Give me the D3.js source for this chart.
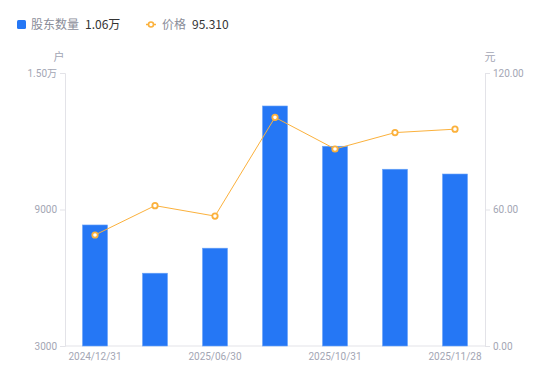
<!DOCTYPE html>
<html>
<head>
<meta charset="utf-8">
<script src="https://cdn.jsdelivr.net/npm/d3@7"></script>
<style>
body{margin:0;background:#fff;font-family:"Noto Sans CJK SC","Noto Sans",sans-serif}
</style>
</head>
<body>
<script>
// data
let dates = ["2024/12/31","2025/03/31","2025/06/30","2025/09/30","2025/10/31","2025/11/20","2025/11/28"]
let holders = [8320, 6200, 7300, 13550, 11780, 10770, 10560]
let prices = [48.8, 61.7, 57.1, 100.5, 86.6, 93.8, 95.31]
let leftTicks = [3000, 9000, 15000]
let rightTicks = [0, 60, 120]
let shownDates = ["2024/12/31","2025/06/30","2025/10/31","2025/11/28"]

let w = 550, h = 381
let plotL = 65, plotR = 485, plotT = 73, plotB = 346
let blue = "#2577f5", orange = "#fbb13c", grey = "#a3a6b4", axisCol = "#e3e3e8"

let svg = d3.select("body").append("svg").attr("width", w).attr("height", h)

let x = d3.scaleBand().domain(dates).range([plotL, plotR])
let yL = d3.scaleLinear().domain([3000, 15000]).range([plotB, plotT])
let yR = d3.scaleLinear().domain([0, 120]).range([plotB, plotT])

let fmtL = d => d >= 10000 ? (d/10000).toFixed(2) + "万" : d
let yAxisL = d3.axisLeft(yL).tickValues(leftTicks).tickFormat(fmtL).tickSize(5).tickPadding(3)
let yAxisR = d3.axisRight(yR).tickValues(rightTicks).tickFormat(d => d.toFixed(2)).tickSize(5).tickPadding(3)
let xAxis = d3.axisBottom(x).tickSize(0).tickPadding(7)
    .tickFormat(d => shownDates.includes(d) ? d : "")

function style(g){
    g.select(".domain").attr("stroke", axisCol)
    g.selectAll(".tick line").attr("stroke", axisCol)
    g.selectAll("text").attr("fill", grey).attr("font-size", 10).attr("font-family", "Roboto, 'Noto Sans CJK SC', sans-serif")
}
svg.append("g").attr("transform", `translate(${plotL},0)`).call(yAxisL).call(style)
svg.append("g").attr("transform", `translate(${plotR},0)`).call(yAxisR).call(style)
svg.append("g").attr("transform", `translate(0,${plotB})`).call(xAxis).call(style)
    .select(".domain").attr("d", `M${plotL},0H${plotR}`)

// axis titles
svg.append("text").attr("x", 59).attr("y", 61).attr("text-anchor", "middle")
    .attr("fill", grey).attr("font-size", 11).text("户")
svg.append("text").attr("x", 490).attr("y", 61).attr("text-anchor", "middle")
    .attr("fill", grey).attr("font-size", 11).text("元")

// bars
let bw = 25
svg.selectAll("rect.bar").data(holders).enter().append("rect").attr("class", "bar")
    .attr("x", (d,i) => x(dates[i]) + x.bandwidth()/2 - bw/2)
    .attr("y", d => yL(d))
    .attr("width", bw)
    .attr("height", d => yL(3000) - yL(d))
    .attr("fill", blue)
    .attr("stroke", "#6aa3f8").attr("stroke-width", 0.6)

// price line
let line = d3.line().x((d,i) => x(dates[i]) + x.bandwidth()/2).y(d => yR(d))
svg.append("path").datum(prices).attr("d", line)
    .attr("fill", "none").attr("stroke", orange).attr("stroke-width", 1)
svg.selectAll("circle.pt").data(prices).enter().append("circle").attr("class", "pt")
    .attr("cx", (d,i) => x(dates[i]) + x.bandwidth()/2)
    .attr("cy", d => yR(d))
    .attr("r", 2.7)
    .attr("fill", "#fff").attr("stroke", orange).attr("stroke-width", 1.8)

// legend
let lg = svg.append("g").attr("font-size", 12)
lg.append("rect").attr("x", 17).attr("y", 20).attr("width", 9).attr("height", 9).attr("rx", 1.5).attr("fill", blue)
lg.append("text").attr("x", 31).attr("y", 29).attr("fill", "#8a8d99").text("股东数量")
lg.append("text").attr("x", 85).attr("y", 29).attr("fill", "#333").text(fmtL(holders[holders.length-1]))
lg.append("line").attr("x1", 146).attr("x2", 156).attr("y1", 24.5).attr("y2", 24.5).attr("stroke", orange).attr("stroke-width", 1.5)
lg.append("circle").attr("cx", 151).attr("cy", 24.5).attr("r", 2.5).attr("fill", "#fff").attr("stroke", orange).attr("stroke-width", 1.6)
lg.append("text").attr("x", 162).attr("y", 29).attr("fill", "#8a8d99").text("价格")
lg.append("text").attr("x", 192).attr("y", 29).attr("fill", "#333").text(prices[prices.length-1].toFixed(3))
</script>
</body>
</html>
